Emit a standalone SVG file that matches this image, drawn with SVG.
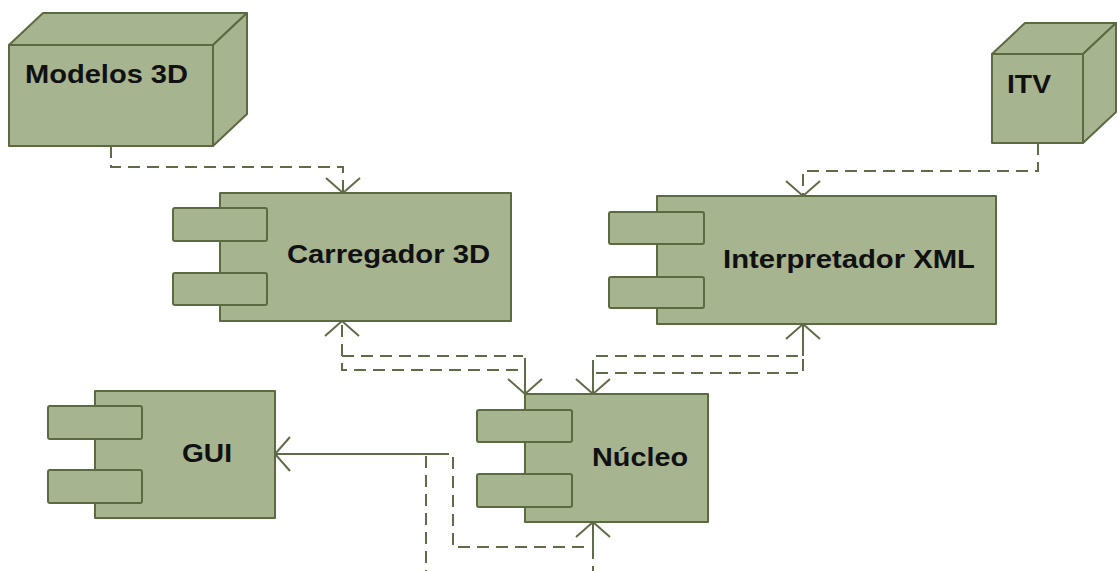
<svg xmlns="http://www.w3.org/2000/svg" width="1117" height="571" viewBox="0 0 1117 571">
<style>
.box{fill:#a7b490;stroke:#5b6a40;stroke-width:2;stroke-linejoin:round}
.port{fill:#a7b490;stroke:#5b6a40;stroke-width:2}
.lbl{font-family:"Liberation Sans",Arial,sans-serif;font-weight:bold;font-size:25px;fill:#111}
.dash{fill:none;stroke:#5f6c48;stroke-width:2;stroke-dasharray:12 7}
.solid{fill:none;stroke:#5f6c48;stroke-width:2}
.arr{marker-end:url(#open)}
</style>
<defs>
<marker id="open" markerUnits="userSpaceOnUse" markerWidth="40" markerHeight="40" refX="0" refY="0" orient="auto" overflow="visible" viewBox="-20 -20 40 40">
<path d="M-15,-17 L0,0 L-15,17" fill="none" stroke="#5f6c48" stroke-width="2"/>
</marker>
</defs>
<rect width="1117" height="571" fill="#fff"/>
<g id="connectors">
<path class="dash arr" d="M111,146 V167 H343 V193"/>
<path class="dash arr" d="M1038,143 V171 H803 V196"/>
<path class="dash arr" d="M518,370 H342 V321"/>
<path class="dash" d="M342,356 H523"/>
<path class="solid arr" d="M525,358 V394"/>
<path class="solid arr" d="M803,356 V324"/>
<path class="dash" d="M596,373 H803 V356"/>
<path class="dash" d="M596,356 H800"/>
<path class="solid arr" d="M593,360 V394"/>
<path class="solid arr" d="M437,454 H275"/>
<path class="dash" d="M437,454 H453 V547 H590"/>
<path class="dash" d="M426,456 V571"/>
<path class="solid arr" d="M593,547 V522"/>
<path class="dash" d="M593,547 V571"/>
</g>
<g id="modelos3d">
<polygon class="box" points="9,45 43,13 247,13 213,45"/>
<polygon class="box" points="213,45 247,13 247,114 213,146"/>
<rect class="box" x="9" y="45" width="204" height="101"/>
<text class="lbl" x="25" y="83" textLength="163" lengthAdjust="spacingAndGlyphs">Modelos 3D</text>
</g>
<g id="itv">
<polygon class="box" points="992,54 1025,23 1116,23 1083,54"/>
<polygon class="box" points="1083,54 1116,23 1116,112 1083,143"/>
<rect class="box" x="992" y="54" width="91" height="89"/>
<text class="lbl" x="1007" y="93" textLength="44" lengthAdjust="spacingAndGlyphs">ITV</text>
</g>
<g id="carregador3d">
<rect class="box" x="220" y="193" width="291" height="128"/>
<rect class="port" x="173" y="208" width="94" height="33" rx="2"/>
<rect class="port" x="173" y="273" width="94" height="32" rx="2"/>
<text class="lbl" x="287" y="263" textLength="203" lengthAdjust="spacingAndGlyphs">Carregador 3D</text>
</g>
<g id="interpretadorxml">
<rect class="box" x="657" y="196" width="339" height="128"/>
<rect class="port" x="609" y="212" width="95" height="32" rx="2"/>
<rect class="port" x="609" y="277" width="95" height="31" rx="2"/>
<text class="lbl" x="723" y="268" textLength="252" lengthAdjust="spacingAndGlyphs">Interpretador XML</text>
</g>
<g id="nucleo">
<rect class="box" x="525" y="394" width="183" height="128"/>
<rect class="port" x="477" y="410" width="95" height="32" rx="2"/>
<rect class="port" x="477" y="474" width="95" height="33" rx="2"/>
<text class="lbl" x="592" y="466" textLength="96" lengthAdjust="spacingAndGlyphs">Núcleo</text>
</g>
<g id="gui">
<rect class="box" x="95" y="391" width="180" height="127"/>
<rect class="port" x="48" y="406" width="94" height="33" rx="2"/>
<rect class="port" x="48" y="470" width="94" height="33" rx="2"/>
<text class="lbl" x="182" y="462" textLength="50" lengthAdjust="spacingAndGlyphs">GUI</text>
</g>
</svg>
